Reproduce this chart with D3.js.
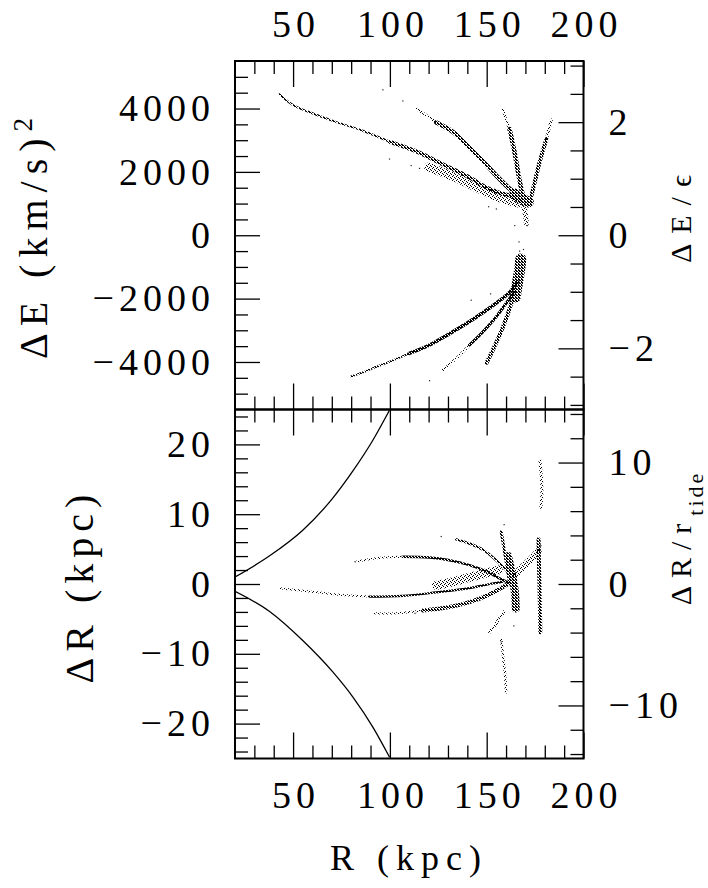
<!DOCTYPE html>
<html>
<head>
<meta charset="utf-8">
<script src="https://cdn.jsdelivr.net/npm/d3@7"></script>
<style>
  body { margin: 0; background: #fff; }
</style>
</head>
<body>
<svg id="chart"></svg>
<script>
// ---- data ----
// R in kpc; upper panel dE in (km/s)^2, lower panel dR in kpc

const epsilon = 1785;   // (km/s)^2, for the dE/eps axis
const rTide = 1.74;     // kpc, for the dR/r_tide axis

const xMajorTicks = [50, 100, 150, 200];
const eMajorTicks = [-4000, -2000, 0, 2000, 4000];
const eNormTicks = [-2, 0, 2];
const rMajorTicks = [-20, -10, 0, 10, 20];
const rNormTicks = [-10, 0, 10];

// upper panel: energy streams above zero
const eLongFar   = [[43,4450],[50,4110],[60,3850],[72,3580],[86,3300],[100,2950]];
const eLongNear  = [[100,2950],[114,2640],[127,2250],[141,1830],[151,1470],[162,1250],[170,1200]];
const eLongWide  = [[120,2150],[133,1850],[145,1500],[157,1180],[166,1020]];
const eMidFar    = [[114,3980],[119,3780],[124,3560]];
const eMidNear   = [[124,3560],[133,3245],[141,2770],[148,2350],[155,1880],[162,1460],[167,1250]];
const eSteepFar  = [[158.4,3980],[160,3650],[161.8,3350]];
const eSteepNear = [[161.8,3350],[164.4,2620],[166.2,1990],[167.9,1460],[169.1,1200]];
const eRightFar  = [[183.4,3640],[180.8,3030]];
const eRightNear = [[180.8,3030],[177.3,2300],[174.8,1670],[173.1,1250]];
const eKnotHigh  = [[164.5,1300],[168,1150],[171.5,1050]];
const eTailHigh  = [[169,950],[170,650],[170.5,380]];
const eDotsHigh  = [[96.4,4590],[106.7,4240],[99.8,2405],[115.3,2110],[155,830],[164.5,305],[171,305],[151,900],[111,2200]];

// upper panel: energy streams below zero
const eLowLongFar  = [[80,-4460],[86,-4330],[91,-4200],[100,-3990],[110,-3730]];
const eLowLongNear = [[110,-3730],[120.5,-3465],[131,-3100],[141,-2730],[150,-2360],[157,-2050],[162,-1790],[166,-1470]];
const eLowMidFar   = [[127.4,-4250],[134.3,-3885],[141.1,-3465]];
const eLowMidNear  = [[141.1,-3465],[148.1,-3045],[155,-2570],[160,-2150],[164.4,-1785]];
const eLowSteep    = [[150,-4020],[153.2,-3620],[156.7,-3150],[160.1,-2625],[162.7,-2150],[165.3,-1730]];
const eKnotLow     = [[164.8,-1950],[165.9,-1500],[167,-1100],[167.6,-750]];
const eDotsLow     = [[166.7,-210],[120.5,-4590],[142,-2050],[152,-1850],[167,-500],[169,-450]];

// lower panel: tidal radius envelope
const tideUpper = [[20,1.0],[37.7,4.0],[55,7.7],[70.5,12.3],[80.9,16.2],[91.2,20.6],[99.8,24.9]];
const tideLower = [[20,-1.05],[37.7,-3.9],[55,-8.1],[70.5,-12.6],[80.9,-16.2],[91.2,-20.5],[99.8,-24.8]];

// lower panel: radial offset streams
const rArcHighFar  = [[82.6,3.2],[92.9,3.7],[106.7,3.9]];
const rArcHighNear = [[106.7,3.9],[120.5,3.8],[130.8,3.4],[141.1,2.7],[149.8,1.8],[156.7,0.8],[161,0.2]];
const rArcTop      = [[134.3,6.4],[141.1,5.8],[148.1,4.9],[154.9,3.4],[160.1,2.0],[163,1.0]];
const rArcLowFar   = [[42.9,-0.6],[55,-0.95],[72.2,-1.5],[89.4,-1.8]];
const rArcLowNear  = [[89.4,-1.8],[106.7,-1.7],[123.9,-1.2],[141.1,-0.6],[151.5,0],[158,0.3]];
const rArcDeepFar  = [[92,-4.2],[103.2,-4.2],[117,-3.8]];
const rArcDeepNear = [[117,-3.8],[130.8,-3.3],[141.1,-2.6],[149.8,-1.7],[156.7,-0.7],[161,0]];
const rFan         = [[124,-0.2],[135,0.5],[146,1.3],[156,2.0]];
const rCore        = [[161,4],[163,1.5],[164.5,-1],[165,-3.5]];
const rSpikeUp     = [[157.5,7.5],[159,5],[160.5,2.5],[161.8,0.2]];
const rWing        = [[164,1.2],[168.5,2.4],[173,3.6],[176.5,4.6]];
const rOuterBand   = [[176.8,6.4],[177,3],[177.3,0],[177.5,-3.5],[177.7,-6.9]];
const rOuterStreak = [[177.5,17.7],[178.3,15],[178.5,13],[178,11]];
const rInnerTail   = [[158.8,-4],[155,-5.6],[151.5,-6.9]];
const rSpikeDown   = [[157.5,-7.9],[158.5,-10.5],[159.5,-13],[160,-15.5]];
const rDots        = [[126.5,6.8],[82,3.2],[113,-4.2],[159,8.5],[178,5.5],[157.5,-8.3],[164,-6]];

// ---- layout ----
const width = 708;
const height = 888;
const frame = { left: 235, right: 583.5, top: 61, mid: 409.5, bottom: 758.5 };
const fontFamily = '"Liberation Serif", "Times New Roman", serif';

const svg = d3.select("#chart")
    .attr("width", width)
    .attr("height", height);

const x = d3.scaleLinear().domain([20, 200]).range([frame.left, frame.right]);
const yE = d3.scaleLinear().domain([-5500, 5500]).range([frame.mid, frame.top]);
const yEn = d3.scaleLinear().domain([-5500 / epsilon, 5500 / epsilon]).range([frame.mid, frame.top]);
const yR = d3.scaleLinear().domain([-25, 25]).range([frame.bottom, frame.mid]);
const yRn = d3.scaleLinear().domain([-25 / rTide, 25 / rTide]).range([frame.bottom, frame.mid]);

// grain patterns so the thick strokes look like particle scatter
const grains = {
    light: { size: 4, cells: [[0,0],[2,1],[1,3],[3,2]] },
    mid:   { size: 3, cells: [[0,0],[1,1],[2,2],[2,0],[0,1]] },
    dense: { size: 3, cells: [[0,0],[1,1],[2,2],[2,0],[0,2],[1,0],[2,1]] }
};
const defs = svg.append("defs");
Object.entries(grains).forEach(([id, g]) => {
    const p = defs.append("pattern")
        .attr("id", "grain-" + id)
        .attr("patternUnits", "userSpaceOnUse")
        .attr("width", g.size)
        .attr("height", g.size);
    p.selectAll("rect").data(g.cells).join("rect")
        .attr("x", d => d[0]).attr("y", d => d[1])
        .attr("width", 1).attr("height", 1)
        .attr("fill", "#000");
});

defs.append("clipPath").attr("id", "clip-top").append("rect")
    .attr("x", frame.left).attr("y", frame.top)
    .attr("width", frame.right - frame.left).attr("height", frame.mid - frame.top);
defs.append("clipPath").attr("id", "clip-bottom").append("rect")
    .attr("x", frame.left).attr("y", frame.mid)
    .attr("width", frame.right - frame.left).attr("height", frame.bottom - frame.mid);

const topPlot = svg.append("g").attr("clip-path", "url(#clip-top)");
const bottomPlot = svg.append("g").attr("clip-path", "url(#clip-bottom)");

function drawStream(g, data, yScale, grain, w) {
    const line = d3.line()
        .x(d => x(d[0]))
        .y(d => yScale(d[1]))
        .curve(d3.curveCatmullRom.alpha(0.5));
    g.append("path")
        .datum(data)
        .attr("d", line)
        .attr("fill", "none")
        .attr("stroke", `url(#grain-${grain})`)
        .attr("stroke-width", w)
        .attr("stroke-linecap", "round")
        .attr("stroke-linejoin", "round");
}

function drawDots(g, data, yScale) {
    g.selectAll(null).data(data).join("rect")
        .attr("x", d => x(d[0]) - 0.6)
        .attr("y", d => yScale(d[1]) - 0.6)
        .attr("width", 1.2)
        .attr("height", 1.2)
        .attr("fill", "#222");
}

// upper panel streams
[
    [eLongFar, "mid", 2], [eLongNear, "mid", 4], [eLongWide, "light", 9],
    [eMidFar, "light", 2.5], [eMidNear, "mid", 4.5],
    [eSteepFar, "light", 2.5], [eSteepNear, "mid", 4.5],
    [eRightFar, "light", 3], [eRightNear, "mid", 4],
    [eKnotHigh, "mid", 11], [eTailHigh, "light", 5],
    [eLowLongFar, "mid", 2], [eLowLongNear, "dense", 3.5],
    [eLowMidFar, "light", 2.5], [eLowMidNear, "dense", 3],
    [eLowSteep, "mid", 4], [eKnotLow, "mid", 11]
].forEach(([data, grain, w]) => drawStream(topPlot, data, yE, grain, w));
drawDots(topPlot, eDotsHigh, yE);
drawDots(topPlot, eDotsLow, yE);

// lower panel: envelope curves then streams
[tideUpper, tideLower].forEach(data => {
    bottomPlot.append("path")
        .datum(data)
        .attr("d", d3.line().x(d => x(d[0])).y(d => yR(d[1])).curve(d3.curveMonotoneX))
        .attr("fill", "none")
        .attr("stroke", "#000")
        .attr("stroke-width", 1.3);
});

[
    [rArcHighFar, "light", 2], [rArcHighNear, "dense", 2.5],
    [rArcTop, "mid", 2.5],
    [rArcLowFar, "light", 2], [rArcLowNear, "dense", 2.2],
    [rArcDeepFar, "light", 2], [rArcDeepNear, "mid", 4],
    [rFan, "light", 9], [rWing, "light", 7],
    [rCore, "mid", 8], [rSpikeUp, "mid", 3],
    [rOuterBand, "mid", 4], [rOuterStreak, "light", 3],
    [rInnerTail, "light", 3], [rSpikeDown, "light", 2.5]
].forEach(([data, grain, w]) => drawStream(bottomPlot, data, yR, grain, w));
drawDots(bottomPlot, rDots, yR);

// ---- axes ----
const tickFont = 38;
const minus = d3.format("d");

function styleAxis(g, anchorShift) {
    g.select(".domain").remove();
    g.selectAll(".tick line").attr("stroke-width", 1.3);
    g.selectAll("text")
        .style("font-family", fontFamily)
        .style("font-size", tickFont + "px")
        .style("letter-spacing", "5px")
        .attr("dx", anchorShift);
}

function addAxis(axis, translate, anchorShift) {
    svg.append("g")
        .attr("transform", translate)
        .call(axis)
        .call(g => styleAxis(g, anchorShift || 0));
}

const xMinor = d3.range(30, 200, 10).filter(v => v % 50 !== 0);

// x axes: top of upper panel (labelled), shared middle, bottom (labelled)
addAxis(d3.axisTop(x).tickValues(xMajorTicks).tickSize(-26).tickPadding(24).tickFormat(minus), `translate(0,${frame.top})`, 2.5);
addAxis(d3.axisTop(x).tickValues(xMinor).tickSize(-13).tickFormat(""), `translate(0,${frame.top})`);
addAxis(d3.axisBottom(x).tickValues(xMajorTicks).tickSize(-26).tickFormat(""), `translate(0,${frame.mid})`);
addAxis(d3.axisBottom(x).tickValues(xMinor).tickSize(-13).tickFormat(""), `translate(0,${frame.mid})`);
addAxis(d3.axisTop(x).tickValues(xMajorTicks).tickSize(-26).tickFormat(""), `translate(0,${frame.mid})`);
addAxis(d3.axisTop(x).tickValues(xMinor).tickSize(-13).tickFormat(""), `translate(0,${frame.mid})`);
addAxis(d3.axisBottom(x).tickValues(xMajorTicks).tickSize(-26).tickPadding(23).tickFormat(minus), `translate(0,${frame.bottom})`, 2.5);
addAxis(d3.axisBottom(x).tickValues(xMinor).tickSize(-13).tickFormat(""), `translate(0,${frame.bottom})`);

// upper panel y axes
addAxis(d3.axisLeft(yE).tickValues(eMajorTicks).tickSize(-25).tickPadding(20).tickFormat(minus), `translate(${frame.left},0)`);
addAxis(d3.axisLeft(yE).tickValues(d3.range(-5000, 5001, 500).filter(v => v % 2000 !== 0)).tickSize(-13).tickFormat(""), `translate(${frame.left},0)`);
addAxis(d3.axisRight(yEn).tickValues(eNormTicks).tickSize(-25).tickPadding(25).tickFormat(minus), `translate(${frame.right},0)`);
addAxis(d3.axisRight(yEn).tickValues(d3.range(-3, 3.01, 0.5).filter(v => v % 2 !== 0)).tickSize(-13).tickFormat(""), `translate(${frame.right},0)`);

// lower panel y axes
addAxis(d3.axisLeft(yR).tickValues(rMajorTicks).tickSize(-25).tickPadding(20).tickFormat(minus), `translate(${frame.left},0)`);
addAxis(d3.axisLeft(yR).tickValues(d3.range(-24, 25, 2).filter(v => v % 10 !== 0)).tickSize(-13).tickFormat(""), `translate(${frame.left},0)`);
addAxis(d3.axisRight(yRn).tickValues(rNormTicks).tickSize(-25).tickPadding(25).tickFormat(minus), `translate(${frame.right},0)`);
addAxis(d3.axisRight(yRn).tickValues(d3.range(-14, 15, 2).filter(v => v % 10 !== 0)).tickSize(-13).tickFormat(""), `translate(${frame.right},0)`);

// frames
[[frame.top, frame.mid], [frame.mid, frame.bottom]].forEach(([t, b]) => {
    svg.append("rect")
        .attr("x", frame.left).attr("y", t)
        .attr("width", frame.right - frame.left).attr("height", b - t)
        .attr("fill", "none").attr("stroke", "#000").attr("stroke-width", 2);
});

// ---- axis titles ----
function title(tx, ty, rot, size, spacing, label) {
    return svg.append("text")
        .attr("transform", `translate(${tx},${ty}) rotate(${rot})`)
        .attr("text-anchor", "middle")
        .style("font-family", fontFamily)
        .style("font-size", size + "px")
        .style("letter-spacing", spacing + "px")
        .text(label);
}

title(47, 235, -90, 40, 7, "ΔE (km/s)")
    .append("tspan").style("font-size", "27px").attr("dy", -15).text("2");
title(93, 586, -90, 40, 6, "ΔR (kpc)");
title(691, 214, -90, 30, 10, "ΔE/ϵ");
title(691, 538, -90, 30, 8, "ΔR/r")
    .append("tspan").style("font-size", "22px").style("letter-spacing", "3px").attr("dy", 12).text("tide");
title(409, 870, 0, 36, 7, "R (kpc)");
</script>
</body>
</html>
